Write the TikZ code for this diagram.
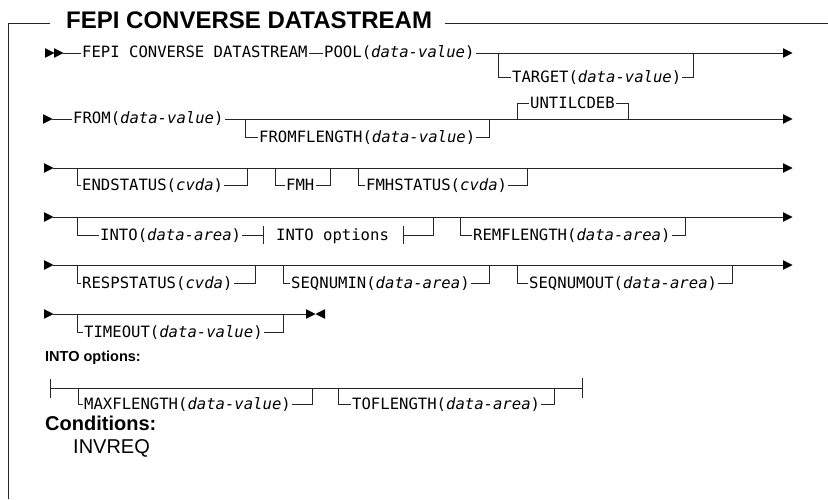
\documentclass[tikz,border=0pt]{standalone}
\usepackage{fontspec}
\setmainfont{Liberation Sans}
\newfontfamily\monof{DejaVu Sans Mono}
\tikzset{
  mono/.style={font=\monof\fontsize{15.6}{18}\selectfont, inner sep=1pt, anchor=base west},
  rail/.style={line width=0.9pt, draw=black!85},
  tip/.style={fill=black},
}
% optional (or default) branch: name, x1, x2, ymain, ybranch, xtext, text
\newcommand\optbr[7]{%
  \node[mono] (#1) at (#6,#5+5.2) {#7};
  \coordinate (#1L) at (#2,#5);
  \coordinate (#1R) at (#3,#5);
  \draw[rail] (#2,#4) -- (#1L) -- (#1.west |- #1L);
  \draw[rail] (#1.east |- #1R) -- (#1R) -- (#3,#4);
}
\newcommand\rtri[2]{\fill[tip] (#1,#2-4.8) -- (#1+9.5,#2) -- (#1,#2+4.8) -- cycle;}
\newcommand\ltri[2]{\fill[tip] (#1,#2-4.8) -- (#1-9.5,#2) -- (#1,#2+4.8) -- cycle;}
\begin{document}
\begin{tikzpicture}[x=1pt,y=-1pt]
\useasboundingbox (0,0) rectangle (828,499);
% frame and title
\node[font=\bfseries\fontsize{24}{28}\selectfont, anchor=base west, inner sep=0pt] (title) at (66,28) {FEPI CONVERSE DATASTREAM};
\coordinate (fTL) at (8,23);
\coordinate (fBL) at (8,499);
\coordinate (fTR) at (828,23);
\draw[rail] ([xshift=-16pt]title.west |- fTL) -- (fTL) -- (fBL);
\draw[rail] ([xshift=13pt]title.east |- fTR) -- (fTR);

% row 1
\rtri{45}{53}\rtri{54}{53}
\coordinate (r1s) at (63,53);
\coordinate (r1e) at (783,53);
\node[mono] (fepi) at (81,57.5) {FEPI CONVERSE DATASTREAM};
\node[mono] (pool) at (323,57.5) {POOL(\textit{data-value})};
\draw[rail] (r1s) -- (fepi.west |- r1s);
\draw[rail] (fepi.east |- r1s) -- (pool.west |- r1s);
\draw[rail] (pool.east |- r1s) -- (r1e);
\rtri{783}{53}
\optbr{target}{498}{693}{53}{77}{511}{TARGET(\textit{data-value})}

% row 2
\rtri{43}{119}
\coordinate (r2s) at (52,119);
\coordinate (r2e) at (783,119);
\node[mono] (from) at (72,123.5) {FROM(\textit{data-value})};
\draw[rail] (r2s) -- (from.west |- r2s);
\draw[rail] (from.east |- r2s) -- (r2e);
\rtri{783}{119}
\optbr{fromfl}{245}{489}{119}{137}{258}{FROMFLENGTH(\textit{data-value})}
\optbr{until}{517}{628}{119}{103}{529}{UNTILCDEB}

% row 3
\rtri{44}{168}
\coordinate (r3s) at (53,168);
\coordinate (r3e) at (783,168);
\draw[rail] (r3s) -- (r3e);
\rtri{783}{168}
\optbr{endst}{77}{247}{168}{185}{81}{ENDSTATUS(\textit{cvda})}
\optbr{fmh}{275}{330}{168}{185}{285}{FMH}
\optbr{fmhst}{358}{527}{168}{185}{365}{FMHSTATUS(\textit{cvda})}

% row 4
\rtri{44}{217}
\coordinate (r4s) at (53,217);
\coordinate (r4e) at (783,217);
\draw[rail] (r4s) -- (r4e);
\rtri{783}{217}
\node[mono] (into) at (99,240.2) {INTO(\textit{data-area})};
\node[mono] (intoopt) at (275,240.2) {INTO options};
\coordinate (intoL) at (77,235);
\coordinate (barA) at (263,235);
\coordinate (barB) at (403,235);
\coordinate (intoR) at (433,235);
\draw[rail] (77,217) -- (intoL) -- (into.west |- intoL);
\draw[rail] (into.east |- intoL) -- (barA);
\draw[rail] (263,226) -- (263,244);
\draw[rail] (403,226) -- (403,244);
\draw[rail] (barB) -- (intoR) -- (433,217);
\optbr{remfl}{460}{685}{217}{235}{472}{REMFLENGTH(\textit{data-area})}

% row 5
\rtri{44}{265}
\coordinate (r5s) at (53,265);
\coordinate (r5e) at (783,265);
\draw[rail] (r5s) -- (r5e);
\rtri{783}{265}
\optbr{resp}{77}{255}{265}{283}{81}{RESPSTATUS(\textit{cvda})}
\optbr{seqin}{283}{489}{265}{283}{290}{SEQNUMIN(\textit{data-area})}
\optbr{seqout}{517}{732}{265}{283}{528}{SEQNUMOUT(\textit{data-area})}

% row 6
\rtri{44}{314}
\coordinate (r6s) at (53,314);
\coordinate (r6e) at (306,314);
\draw[rail] (r6s) -- (r6e);
\rtri{306}{314}\ltri{325}{314}
\optbr{timeout}{77}{283}{314}{332}{83}{TIMEOUT(\textit{data-value})}

% INTO options fragment
\node[font=\bfseries\fontsize{14.5}{17}\selectfont, anchor=base west, inner sep=0pt] (intohead) at (45,361) {INTO options:};
\coordinate (r7s) at (50,388);
\coordinate (r7e) at (582,388);
\draw[rail] (50,379) -- (50,398);
\draw[rail] (582,378) -- (582,398);
\draw[rail] (r7s) -- (r7e);
\optbr{maxfl}{78}{312}{388}{404}{83}{MAXFLENGTH(\textit{data-value})}
\optbr{tofl}{338}{554}{388}{404}{351}{TOFLENGTH(\textit{data-area})}

% conditions
\node[font=\bfseries\fontsize{20}{24}\selectfont, anchor=base west, inner sep=0pt] (cond) at (45,430) {Conditions:};
\node[font=\fontsize{20}{24}\selectfont, anchor=base west, inner sep=0pt] (invreq) at (73,453) {INVREQ};
\end{tikzpicture}
\end{document}
